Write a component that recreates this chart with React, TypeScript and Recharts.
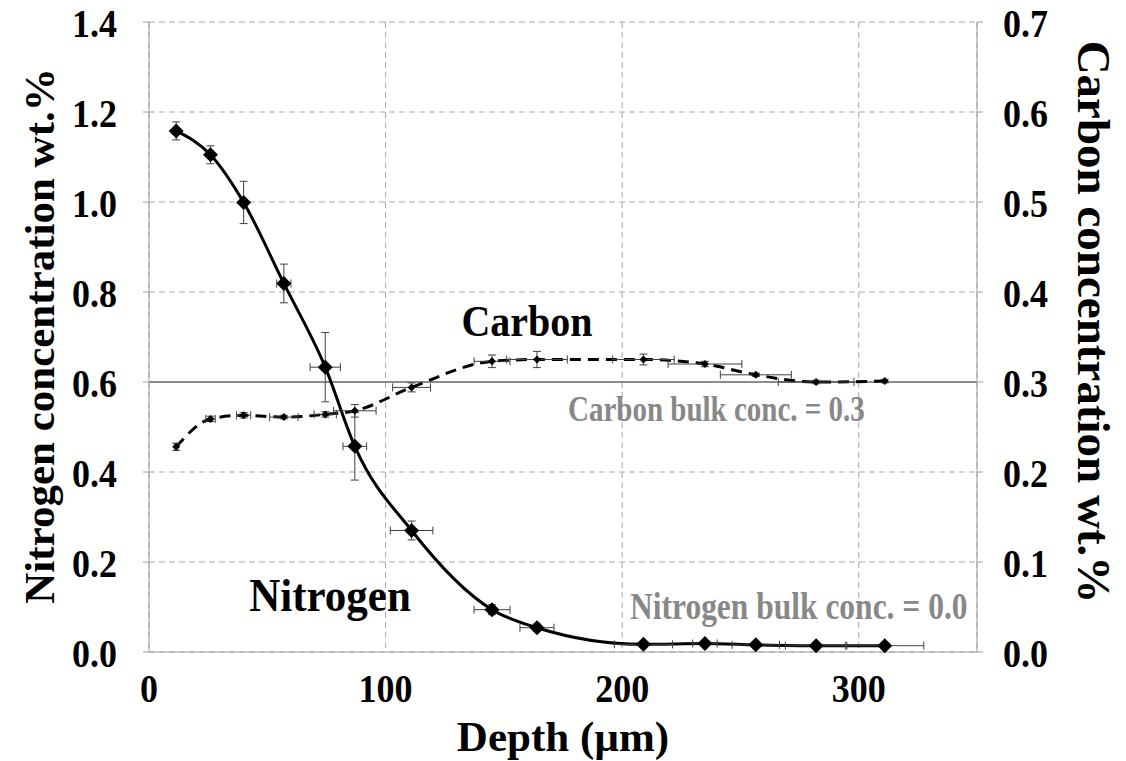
import { ComposedChart, Line, Scatter, ErrorBar, XAxis, YAxis, CartesianGrid, ReferenceLine, Customized } from 'recharts';

// depth in µm, shared by both profiles
const depth = [11.5, 26, 40, 57, 74.5, 87, 111, 145, 164, 209, 235, 256.5, 282, 311];

const nitrogen = [1.158, 1.105, 0.999, 0.819, 0.633, 0.457, 0.27, 0.094, 0.054, 0.017, 0.019, 0.016, 0.014, 0.014];
const nitrogenErrY = [0.02, 0.02, 0.047, 0.043, 0.077, 0.075, 0.021, 0.011, 0.008, 0.004, 0.004, 0.003, 0.003, 0.003];
const nitrogenErrX = [0, 0, 0, 3, 6.4, 5, 9, 7.6, 7.2, 12.3, 5.2, 10, 13, 16.5];

const carbon = [0.228, 0.259, 0.263, 0.261, 0.264, 0.268, 0.294, 0.323, 0.325, 0.325, 0.32, 0.308, 0.3, 0.301];
const carbonErrY = [0.004, 0.003, 0.003, 0.002, 0.003, 0.007, 0.005, 0.007, 0.009, 0.006, 0.003, 0.002, 0.002, 0.002];
const carbonErrX = [0.5, 2, 3, 6, 4.7, 9, 8, 7.6, 12.8, 13, 15.6, 15, 16, 0];

const xTicks = [0, 100, 200, 300];
const nTicks = [0, 0.2, 0.4, 0.6, 0.8, 1.0, 1.2, 1.4];
const cTicks = [0, 0.1, 0.2, 0.3, 0.4, 0.5, 0.6, 0.7];

const nitrogenData = depth.map((d, i) => ({ depth: d, n: nitrogen[i], nErrY: nitrogenErrY[i], nErrX: nitrogenErrX[i] }));
const carbonData = depth.map((d, i) => ({ depth: d, c: carbon[i], cErrY: carbonErrY[i], cErrX: carbonErrX[i] }));

const FONT = '"Liberation Serif", "Times New Roman", serif';
const GRID = '#a9a9a9';
const AXIS = '#a0a0a0';

const diamond = (half: number) => (props: any) => {
  const { cx, cy } = props;
  if (cx == null || cy == null) return <g />;
  return <polygon points={`${cx},${cy - half} ${cx + half},${cy} ${cx},${cy + half} ${cx - half},${cy}`} fill="#000" />;
};

const XTick = ({ x, y, payload }: any) => (
  <text transform={`translate(${x},${y + 42}) scale(1,1.1)`} textAnchor="middle" fontFamily={FONT} fontWeight="bold" fontSize={36} fill="#000">
    {payload.value}
  </text>
);

const LeftTick = ({ y, payload }: any) => (
  <text transform={`translate(117,${y + 15}) scale(1,1.1)`} textAnchor="end" fontFamily={FONT} fontWeight="bold" fontSize={36} fill="#000">
    {payload.value.toFixed(1)}
  </text>
);

const RightTick = ({ y, payload }: any) => (
  <text transform={`translate(1003,${y + 15}) scale(1,1.1)`} textAnchor="start" fontFamily={FONT} fontWeight="bold" fontSize={36} fill="#000">
    {payload.value.toFixed(1)}
  </text>
);

const Labels = () => (
  <g fontFamily={FONT} fontWeight="bold">
    <text x={563} y={751} textAnchor="middle" fontSize={43} fill="#000">Depth (µm)</text>
    <text transform="translate(54,336) rotate(-90)" textAnchor="middle" fontSize={43} fill="#000">Nitrogen concentration wt.%</text>
    <text transform="translate(1078,322) rotate(90)" textAnchor="middle" fontSize={47} fill="#000">Carbon concentration wt.%</text>
    <text transform="translate(527,336) scale(1,1.1)" textAnchor="middle" fontSize={40} fill="#000">Carbon</text>
    <text transform="translate(330,611) scale(1,1.1)" textAnchor="middle" fontSize={43} fill="#000">Nitrogen</text>
    <text transform="translate(568,421) scale(1,1.2)" textAnchor="start" fontSize={29} fill="#888">Carbon bulk conc. = 0.3</text>
    <text transform="translate(630,619) scale(1,1.2)" textAnchor="start" fontSize={31.5} fill="#888">Nitrogen bulk conc. = 0.0</text>
  </g>
);

export default function App() {
  return (
    <div style={{ position: 'absolute', left: 0, top: 0, background: '#fff' }}>
      <ComposedChart width={1126} height={761} margin={{ top: 22, right: 49, bottom: 49, left: 0 }}>
        <CartesianGrid yAxisId="n" stroke={GRID} strokeDasharray="6 4" />
        <XAxis
          dataKey="depth"
          type="number"
          domain={[0, 350]}
          ticks={xTicks}
          allowDataOverflow
          height={60}
          tickLine={false}
          axisLine={{ stroke: AXIS }}
          tick={<XTick />}
        />
        <YAxis
          yAxisId="n"
          domain={[0, 1.4]}
          ticks={nTicks}
          width={149}
          tickSize={6}
          tickLine={{ stroke: AXIS }}
          axisLine={{ stroke: AXIS }}
          tick={<LeftTick />}
        />
        <YAxis
          yAxisId="c"
          orientation="right"
          domain={[0, 0.7]}
          ticks={cTicks}
          width={100}
          tickSize={6}
          tickLine={{ stroke: AXIS }}
          axisLine={{ stroke: AXIS }}
          tick={<RightTick />}
        />
        <ReferenceLine yAxisId="c" y={0.3} stroke="#8c8c8c" strokeWidth={2} />
        <Line
          data={carbonData}
          dataKey="c"
          yAxisId="c"
          type="monotone"
          stroke="#000"
          strokeWidth={3}
          strokeDasharray="11 7"
          dot={false}
          activeDot={false}
          isAnimationActive={false}
        />
        <Line
          data={nitrogenData}
          dataKey="n"
          yAxisId="n"
          type="monotone"
          stroke="#000"
          strokeWidth={3}
          dot={false}
          activeDot={false}
          isAnimationActive={false}
        />
        <Scatter data={carbonData} dataKey="c" yAxisId="c" shape={diamond(4)} isAnimationActive={false}>
          <ErrorBar dataKey="cErrY" direction="y" width={4} stroke="#404040" strokeWidth={1} />
          <ErrorBar dataKey="cErrX" direction="x" width={4} stroke="#404040" strokeWidth={1} />
        </Scatter>
        <Scatter data={nitrogenData} dataKey="n" yAxisId="n" shape={diamond(7.5)} isAnimationActive={false}>
          <ErrorBar dataKey="nErrY" direction="y" width={4} stroke="#404040" strokeWidth={1} />
          <ErrorBar dataKey="nErrX" direction="x" width={4} stroke="#404040" strokeWidth={1} />
        </Scatter>
        <Customized component={Labels} />
      </ComposedChart>
    </div>
  );
}
